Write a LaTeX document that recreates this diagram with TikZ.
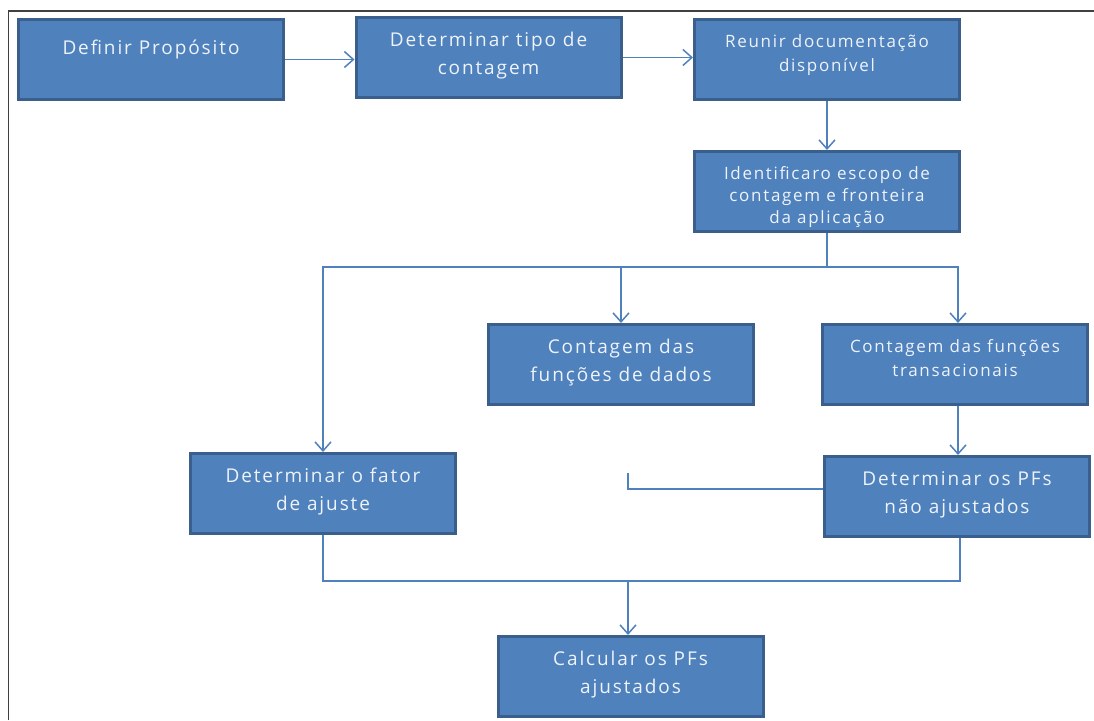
\documentclass[tikz,border=0pt]{standalone}
\usepackage{fontspec}
\setmainfont{Open Sans}[LetterSpace=10]
\usepackage{tikz}
\usetikzlibrary{arrows.meta}

\definecolor{azul}{HTML}{4F81BD}
\definecolor{borda}{HTML}{3A5F8D}
\definecolor{letra}{HTML}{EEF3FA}
\definecolor{moldura}{HTML}{404040}
\newcommand{\grande}{\fontsize{19}{28}\selectfont}
\newcommand{\pequena}[1]{\fontsize{17}{#1}\selectfont}
\newcommand{\caixa}[2]{\parbox[c][80pt][t]{262pt}{\centering\rule{0pt}{#1}#2\par}}

\begin{document}
\begin{tikzpicture}[x=1pt, y=-1pt,
  passo/.style={rectangle, draw=borda, fill=azul, line width=3pt, minimum width=265pt, minimum height=80pt, inner sep=0pt, text=letra},
  seta/.style={draw=azul, line width=1.5pt, -{Straight Barb[length=9pt,width=16pt]}},
  linha/.style={draw=azul, line width=1.5pt}]
  \useasboundingbox (0,0) rectangle (1094,720);
  \draw[moldura, line width=1.5pt] (8.5,720) -- (8.5,11) -- (1094,11);
  \foreach \nome/\x/\y/\texto in {tipo/488.5/57.5/{Determinar tipo de\\contagem}, dados/621/364.5/{Contagem das\\funções de dados}, fator/323/493.5/{Determinar o fator\\de ajuste}, naoaj/957/496.5/{Determinar os PFs\\não ajustados}, calc/630.5/676.5/{Calcular os PFs\\ajustados}}
  {
    \node[passo] (\nome) at (\x,\y) {\caixa{29pt}{\grande\texto}};
  }
  \node[passo] (def) at (151,59.5) {\caixa{35pt}{\grande Definir Propósito}};
  \node[passo] (doc) at (827,59.5) {\caixa{28pt}{\pequena{24}Reunir documentação\\disponível}};
  \node[passo] (escopo) at (827,191.5) {\caixa{28pt}{\pequena{22}Identificaro escopo de\\contagem e fronteira\\da aplicação}};
  \node[passo] (trans) at (955,364.5) {\caixa{28pt}{\pequena{24}Contagem das funções\\transacionais}};
  \coordinate (ramo) at (827,267);
  \coordinate (juncao) at (628,581);
  \coordinate (solto) at (628,473);
  \path[seta] (def.east) -- (def.east -| tipo.west);
  \path[seta] (tipo.east) -- (tipo.east -| doc.west);
  \path[seta] (doc.south) -- (escopo.north);
  \path[linha] (escopo.south) -- (ramo);
  \path[seta] (ramo) -| (fator.north);
  \path[seta] (ramo) -| (dados.north);
  \path[seta] (ramo) -| ([xshift=3pt]trans.north);
  \path[seta] ([xshift=3pt]trans.south) -- ([xshift=3pt]trans.south |- naoaj.north);
  \path[linha] (solto) |- ([yshift=7.5pt]naoaj.west);
  \path[linha] (fator.south) |- (juncao);
  \path[linha] ([xshift=3pt]naoaj.south) |- (juncao);
  \path[seta] (juncao) -- (juncao |- calc.north);
\end{tikzpicture}
\end{document}
